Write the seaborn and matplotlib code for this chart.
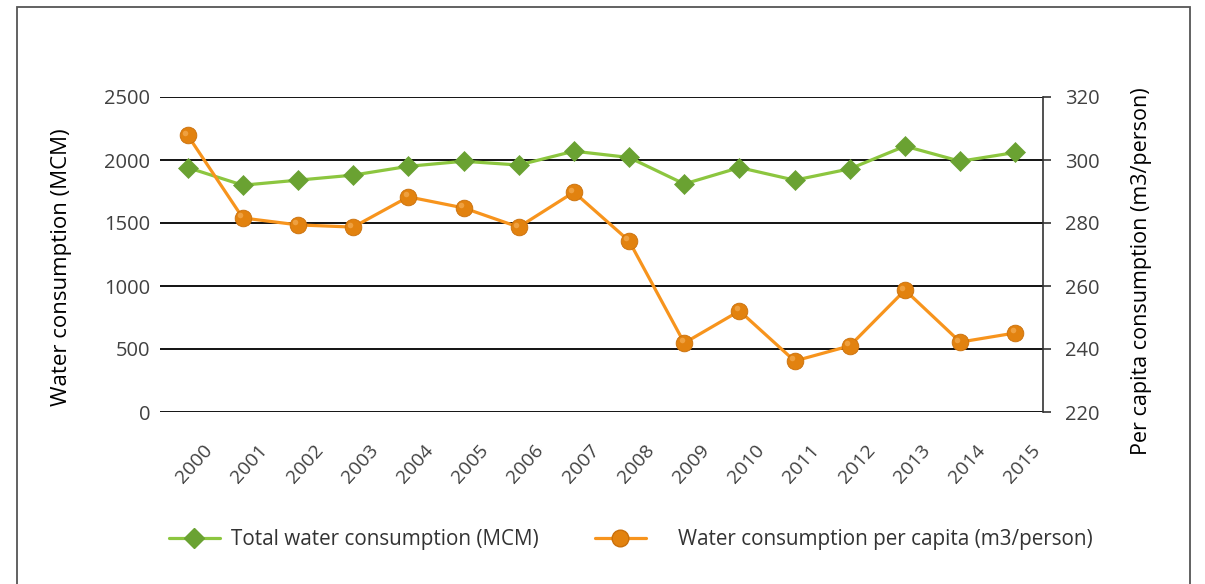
import matplotlib
matplotlib.use("Agg")
import matplotlib.pyplot as plt
import matplotlib.transforms as mtransforms
from matplotlib.lines import Line2D
from matplotlib.patches import Rectangle
import seaborn as sns
import pandas as pd

years = ["2000", "2001", "2002", "2003", "2004", "2005", "2006", "2007",
         "2008", "2009", "2010", "2011", "2012", "2013", "2014", "2015"]
total_mcm = [1940, 1800, 1840, 1880, 1950, 1990, 1960, 2070,
             2020, 1810, 1940, 1840, 1930, 2110, 1990, 2060]
per_capita = [307.9, 281.6, 279.4, 278.7, 288.3, 284.8, 278.7, 289.8,
              274.3, 241.9, 252.1, 236.2, 241.0, 258.7, 242.2, 245.1]
left_ticks = [0, 500, 1000, 1500, 2000, 2500]
right_ticks = [220, 240, 260, 280, 300, 320]

label_total = "Total water consumption (MCM)"
label_pc = "Water consumption per capita (m3/person)"

df = pd.DataFrame({"idx": list(range(len(years))), "year": years,
                   "total": total_mcm, "pc": per_capita})

sns.set_theme(style="white")
plt.rcParams["font.family"] = ["Open Sans", "DejaVu Sans"]

W, H = 1205, 584
fig = plt.figure(figsize=(W / 100, H / 100), dpi=100)
ax = fig.add_axes([160 / W, 1 - 412 / H, (1043 - 160) / W, (412 - 97) / H])
ax2 = ax.twinx()

green_line = "#8cc63f"
green_fill = "#6aa232"
orange_line = "#f7941d"
orange_fill = "#e2820f"
tick_col = "#404040"

# gridlines
ax.set_ylim(0, 2500)
ax.set_yticks(left_ticks)
ax.grid(axis="y", color="black", linewidth=1.3)
ax.set_axisbelow(True)

sns.lineplot(data=df, x="idx", y="total", ax=ax, color=green_line, linewidth=2.3,
             marker="D", markersize=10.5, markerfacecolor=green_fill,
             markeredgecolor=green_fill, markeredgewidth=0.5, zorder=3)

ax2.set_ylim(220, 320)
ax2.set_yticks(right_ticks)
sns.lineplot(data=df, x="idx", y="pc", ax=ax2, color=orange_line, linewidth=2.3,
             marker="o", markersize=12, markerfacecolor=orange_fill,
             markeredgecolor="#c96f0a", markeredgewidth=0.6, zorder=3)
# glossy highlight on the orange balls
ax2.plot(df["idx"] - 0.05, df["pc"] + 0.8, linestyle="none", marker="o",
         markersize=4, markerfacecolor="#f4ad55", markeredgewidth=0, alpha=0.7, zorder=4)

ax.set_xlim(-0.5, len(years) - 0.5)
ax.set_xticks(list(range(len(years))))
ax.set_xticklabels(years, rotation=48, ha="center", va="top", fontsize=14, color=tick_col)
ax.tick_params(axis="x", length=0, pad=21)
ax.tick_params(axis="y", length=0, pad=7, labelsize=14.5, labelcolor=tick_col)
ax2.tick_params(axis="y", length=6, width=1.2, color="#333333", pad=10,
                labelsize=14.5, labelcolor=tick_col, direction="out")
offset = mtransforms.ScaledTranslation(7 / 100, 0, fig.dpi_scale_trans)
for lbl in ax.get_xticklabels():
    lbl.set_transform(lbl.get_transform() + offset)

for a in (ax, ax2):
    for s in a.spines.values():
        s.set_visible(False)
ax2.spines["right"].set_visible(True)
ax2.spines["right"].set_color("#333333")
ax2.spines["right"].set_linewidth(1.2)

ax.set_xlabel("")
ax.set_ylabel("")
ax2.set_ylabel("")
fig.text(62 / W, 1 - 267 / H, "Water consumption (MCM)", rotation=90,
         ha="center", va="center", fontsize=16, color="black")
fig.text(1142 / W, 1 - 271 / H, "Per capita consumption (m3/person)", rotation=90,
         ha="center", va="center", fontsize=15.5, color="black")

h1 = Line2D([], [], color=green_line, linewidth=2.3, marker="D", markersize=10.5,
            markerfacecolor=green_fill, markeredgecolor=green_fill)
h2 = Line2D([], [], color=orange_line, linewidth=2.3, marker="o", markersize=12,
            markerfacecolor=orange_fill, markeredgecolor="#c96f0a")
leg1 = fig.legend([h1], [label_total], loc="center left",
                  bbox_to_anchor=(169 / W, 1 - 540 / H), frameon=False,
                  fontsize=14.9, handlelength=2.45, handletextpad=0.55,
                  borderpad=0, borderaxespad=0)
leg2 = fig.legend([h2], [label_pc], loc="center left",
                  bbox_to_anchor=(595 / W, 1 - 540 / H), frameon=False,
                  fontsize=14.9, handlelength=2.45, handletextpad=1.55,
                  borderpad=0, borderaxespad=0)
for leg in (leg1, leg2):
    for t in leg.get_texts():
        t.set_color("#333333")

# outer frame
fig.patches.append(Rectangle((17 / W, -0.05), (1190 - 17) / W, 1.05 - 7 / H,
                             transform=fig.transFigure, fill=False,
                             edgecolor="#555555", linewidth=1.3))

fig.savefig("out.png", dpi=100)
